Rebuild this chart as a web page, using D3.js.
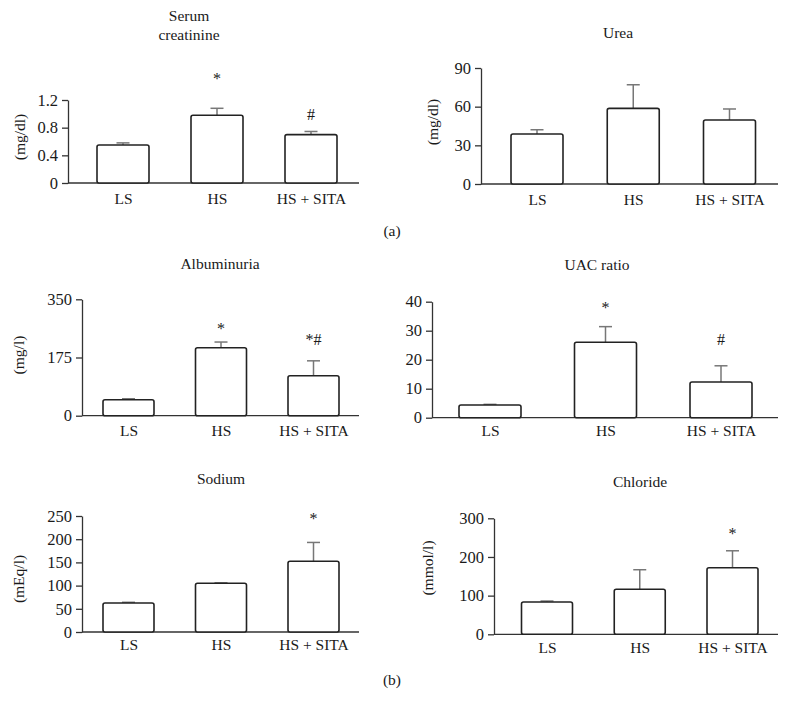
<!DOCTYPE html>
<html><head><meta charset="utf-8">
<script src="https://cdn.jsdelivr.net/npm/d3@7"></script>
<style>
html,body{margin:0;padding:0;background:#fff;}
svg{display:block;}
text{font-family:"Liberation Serif","Times New Roman",serif;fill:#1a1a1a;}
</style></head>
<body>
<svg id="chart" width="789" height="713"></svg>
<script>
// ---- data ----
const groups = ["LS", "HS", "HS + SITA"];

const creatinineMean = [0.55, 0.98, 0.70];
const creatinineSem  = [0.03, 0.10, 0.045];
const creatinineSig  = ["", "*", "#"];
const creatinineSigAt = [null, 1.43, 0.91];
const creatinineTicks = [0, 0.4, 0.8, 1.2];

const ureaMean = [38.8, 58.7, 49.7];
const ureaSem  = [3.3, 18.3, 8.5];
const ureaSig  = ["", "", ""];
const ureaSigAt = [null, null, null];
const ureaTicks = [0, 30, 60, 90];

const albuminMean = [48, 204.5, 120];
const albuminSem  = [3, 17, 45];
const albuminSig  = ["", "*", "*#"];
const albuminSigAt = [null, 245.6, 212];
const albuminTicks = [0, 175, 350];

const uacMean = [4.4, 26.0, 12.3];
const uacSem  = [0.2, 5.4, 5.6];
const uacSig  = ["", "*", "#"];
const uacSigAt = [null, 36.1, 25.1];
const uacTicks = [0, 10, 20, 30, 40];

const sodiumMean = [62.5, 105, 152.4];
const sodiumSem  = [1.5, 1, 40.6];
const sodiumSig  = ["", "", "*"];
const sodiumSigAt = [null, null, 232.8];
const sodiumTicks = [0, 50, 100, 150, 200, 250];

const chlorideMean = [83.5, 116.4, 172.3];
const chlorideSem  = [2.5, 50.6, 43.7];
const chlorideSig  = ["", "", "*"];
const chlorideSigAt = [null, null, 247.2];
const chlorideTicks = [0, 100, 200, 300];

// ---- layout ----
const panels = [
  {title:["Serum","creatinine"], titleX:189, titleY:[21,40], ylab:"(mg/dl)", ylabX:25, ylabY:137,
   mean:creatinineMean, sem:creatinineSem, sig:creatinineSig, sigAt:creatinineSigAt, ticks:creatinineTicks,
   ax:68, axEnd:359, y0:183, yTop:100, c0:123, c2:311, bw:52, xlabY:204},
  {title:["Urea"], titleX:618, titleY:[38], ylab:"(mg/dl)", ylabX:438, ylabY:122,
   mean:ureaMean, sem:ureaSem, sig:ureaSig, sigAt:ureaSigAt, ticks:ureaTicks,
   ax:481, axEnd:778, y0:184, yTop:68, c0:537, c2:729.5, bw:52, xlabY:205},
  {title:["Albuminuria"], titleX:220, titleY:[269], ylab:"(mg/l)", ylabX:24, ylabY:355,
   mean:albuminMean, sem:albuminSem, sig:albuminSig, sigAt:albuminSigAt, ticks:albuminTicks,
   ax:82, axEnd:359, y0:415.7, yTop:299.3, c0:128.5, c2:313.5, bw:51, xlabY:436},
  {title:["UAC ratio"], titleX:597, titleY:[270], ylab:null,
   mean:uacMean, sem:uacSem, sig:uacSig, sigAt:uacSigAt, ticks:uacTicks,
   ax:432, axEnd:778, y0:417.7, yTop:301.7, c0:490, c2:721, bw:62, xlabY:436},
  {title:["Sodium"], titleX:221, titleY:[484], ylab:"(mEq/l)", ylabX:24, ylabY:579,
   mean:sodiumMean, sem:sodiumSem, sig:sodiumSig, sigAt:sodiumSigAt, ticks:sodiumTicks,
   ax:82, axEnd:359, y0:632, yTop:516, c0:128.5, c2:313.5, bw:51, xlabY:650},
  {title:["Chloride"], titleX:640, titleY:[487], ylab:"(mmol/l)", ylabX:433, ylabY:568,
   mean:chlorideMean, sem:chlorideSem, sig:chlorideSig, sigAt:chlorideSigAt, ticks:chlorideTicks,
   ax:494, axEnd:778, y0:634.3, yTop:518.3, c0:547, c2:732.5, bw:51, xlabY:653}
];

const svg = d3.select("#chart");
const FS = 15.5;
const TFS = 16.5;
const FONT = '"Liberation Serif","Times New Roman",serif';

panels.forEach(p => {
  const g = svg.append("g");
  const maxT = d3.max(p.ticks);
  const y = d3.scaleLinear().domain([0, maxT]).range([p.y0, p.yTop]);
  const x = d3.scalePoint().domain(groups).range([p.c0, p.c2]);

  // title
  p.title.forEach((t, i) => {
    g.append("text").attr("x", p.titleX).attr("y", p.titleY[i])
      .attr("text-anchor", "middle").style("font-size", FS + "px").text(t);
  });

  // y label
  if (p.ylab) {
    g.append("text").attr("transform", `translate(${p.ylabX},${p.ylabY}) rotate(-90)`)
      .attr("text-anchor", "middle").style("font-size", FS + "px").text(p.ylab);
  }

  // y axis
  const ya = g.append("g").attr("transform", `translate(${p.ax},0)`)
    .call(d3.axisLeft(y).tickValues(p.ticks).tickSize(6).tickSizeOuter(0).tickPadding(4)
      .tickFormat(d => String(d)));
  ya.selectAll("path.domain").attr("stroke", "#333").attr("stroke-width", 1.3);
  ya.selectAll(".tick line").attr("stroke", "#333").attr("stroke-width", 1.3);
  ya.selectAll(".tick text").style("font-size", TFS + "px")
    .style("font-family", FONT).attr("fill", "#1a1a1a");

  // x axis line
  g.append("line").attr("x1", p.ax).attr("x2", p.axEnd).attr("y1", p.y0).attr("y2", p.y0)
    .attr("stroke", "#333").attr("stroke-width", 1.3);

  // x labels
  const xa = g.append("g").attr("transform", `translate(0,${p.xlabY})`)
    .call(d3.axisBottom(x).tickSize(0).tickPadding(0));
  xa.select("path.domain").remove();
  xa.selectAll(".tick text").attr("dy", 0).attr("y", 0).style("font-size", FS + "px")
    .style("font-family", FONT).attr("fill", "#1a1a1a");

  const data = groups.map((gname, i) => ({g: gname, m: p.mean[i], s: p.sem[i], sig: p.sig[i], at: p.sigAt[i]}));

  // error bars (upper only)
  const eb = g.selectAll("g.eb").data(data).join("g").attr("class", "eb");
  eb.append("line").attr("x1", d => x(d.g)).attr("x2", d => x(d.g))
    .attr("y1", d => y(d.m)).attr("y2", d => y(d.m + d.s))
    .attr("stroke", "#777").attr("stroke-width", 1.5);
  eb.append("line").attr("x1", d => x(d.g) - 6.5).attr("x2", d => x(d.g) + 6.5)
    .attr("y1", d => y(d.m + d.s)).attr("y2", d => y(d.m + d.s))
    .attr("stroke", "#777").attr("stroke-width", 1.5);

  // bars
  g.selectAll("rect.bar").data(data).join("rect").attr("class", "bar")
    .attr("x", d => x(d.g) - p.bw / 2).attr("width", p.bw)
    .attr("y", d => y(d.m)).attr("height", d => p.y0 - y(d.m))
    .attr("rx", 2).attr("fill", "#fff").attr("stroke", "#222").attr("stroke-width", 1.6);

  // significance marks
  g.selectAll("text.sig").data(data.filter(d => d.sig)).join("text").attr("class", "sig")
    .attr("x", d => x(d.g)).attr("y", d => y(d.at))
    .attr("text-anchor", "middle").style("font-size", "16px").text(d => d.sig);
});

// panel letters
svg.append("text").attr("x", 392).attr("y", 236).attr("text-anchor", "middle")
  .style("font-size", FS + "px").text("(a)");
svg.append("text").attr("x", 392).attr("y", 685).attr("text-anchor", "middle")
  .style("font-size", FS + "px").text("(b)");
</script>
</body></html>
